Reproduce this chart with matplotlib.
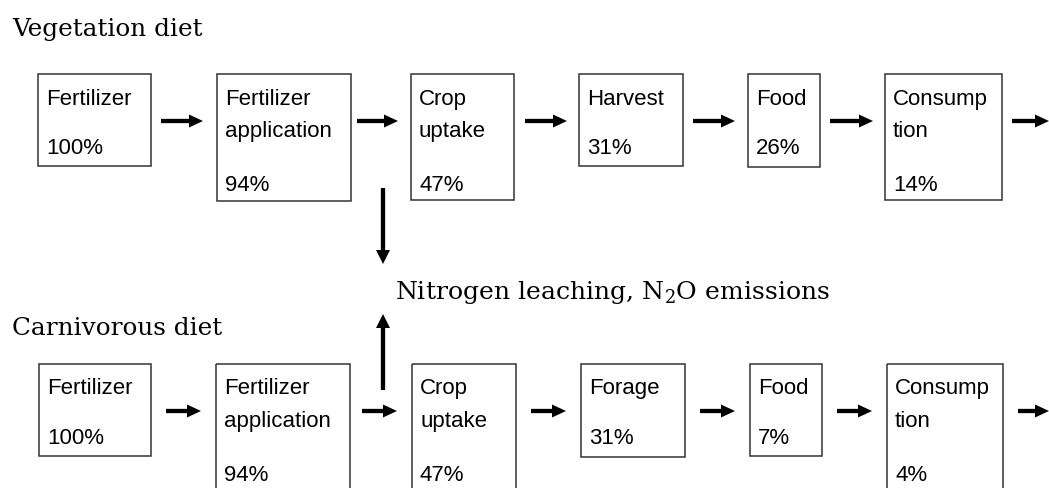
import matplotlib
matplotlib.use("Agg")
import matplotlib.pyplot as plt
from matplotlib.patches import Rectangle, FancyArrow

# ---- data ----
veg_title = "Vegetation diet"
carn_title = "Carnivorous diet"
veg_stages = [["Fertilizer"], ["Fertilizer", "application"], ["Crop", "uptake"],
              ["Harvest"], ["Food"], ["Consump", "tion"]]
veg_values = [100, 94, 47, 31, 26, 14]
carn_stages = [["Fertilizer"], ["Fertilizer", "application"], ["Crop", "uptake"],
               ["Forage"], ["Food"], ["Consump", "tion"]]
carn_values = [100, 94, 47, 31, 7, 4]
loss_label = r"Nitrogen leaching, N$_\mathregular{2}$O emissions"

# ---- layout (pixel coordinates) ----
W, H = 1049, 489
fig = plt.figure(figsize=(W / 100, H / 100), dpi=100)
ax = fig.add_axes([0, 0, 1, 1])
ax.set_xlim(0, W)
ax.set_ylim(H, 0)
ax.axis("off")

plt.rcParams["mathtext.fontset"] = "custom"
plt.rcParams["mathtext.rm"] = "DejaVu Serif"

serif = "DejaVu Serif"
sans = "Liberation Sans"
box_fs = 16
title_fs = 17.8
loss_fs = 18.1

rows = [
    dict(stages=veg_stages, values=veg_values, top=75,
         lefts=[38, 217, 411, 579, 748, 885],
         rights=[151, 351, 514, 683, 820, 1002],
         bottoms=[167, 202, 201, 167, 168, 201],
         base=[105, 137, 154, 191],
         arrow_y=122,
         arrows=[(161, 203), (357, 398), (525, 567), (693, 735), (830, 873), (1012, 1049)]),
    dict(stages=carn_stages, values=carn_values, top=365,
         lefts=[39, 216, 412, 581, 750, 887],
         rights=[151, 350, 516, 685, 822, 1003],
         bottoms=[457, 495, 495, 458, 457, 495],
         base=[394, 427, 444, 481],
         arrow_y=412,
         arrows=[(166, 201), (362, 397), (531, 566), (700, 735), (837, 872), (1018, 1049)]),
]

for row in rows:
    for i, (lines, val) in enumerate(zip(row["stages"], row["values"])):
        l, r, b = row["lefts"][i], row["rights"][i], row["bottoms"][i]
        ax.add_patch(Rectangle((l, row["top"]), r - l, b - row["top"],
                               fill=False, edgecolor="#333333", linewidth=1.1))
        tx = l + 8
        for k, line in enumerate(lines):
            ax.text(tx, row["base"][k], line, fontsize=box_fs, family=sans,
                    va="baseline", ha="left", color="black")
        vy = row["base"][3] if len(lines) > 1 else row["base"][2]
        ax.text(tx, vy, f"{val}%", fontsize=box_fs, family=sans,
                va="baseline", ha="left", color="black")
    y = row["arrow_y"]
    for x0, x1 in row["arrows"]:
        ax.add_patch(FancyArrow(x0, y, x1 - x0, 0, width=4.3, head_width=13,
                                head_length=14, length_includes_head=True,
                                color="black", linewidth=0))

# vertical loss arrows
ax.add_patch(FancyArrow(383, 189, 0, 265 - 189, width=4.3, head_width=14,
                        head_length=14, length_includes_head=True,
                        color="black", linewidth=0))
ax.add_patch(FancyArrow(383, 391, 0, 315 - 391, width=4.3, head_width=14,
                        head_length=14, length_includes_head=True,
                        color="black", linewidth=0))

# titles
ax.text(12, 36, veg_title, fontsize=title_fs, family=serif, va="baseline", ha="left")
ax.text(12, 335, carn_title, fontsize=title_fs, family=serif, va="baseline", ha="left")
ax.text(395, 299, loss_label, fontsize=loss_fs, family=serif, va="baseline", ha="left")

fig.savefig("out.png", dpi=100)
